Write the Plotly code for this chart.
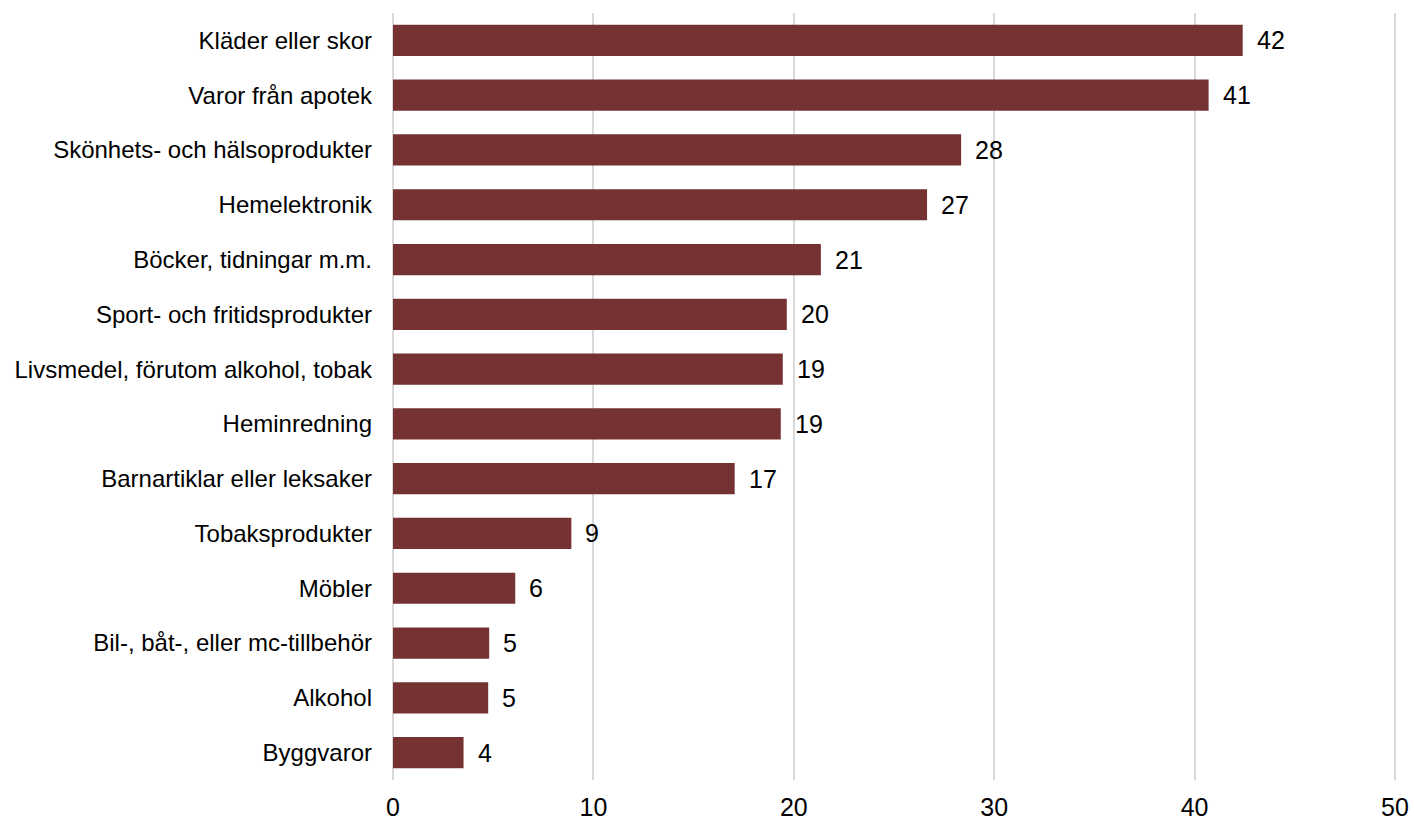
import plotly.graph_objects as go

categories = [
    "Kläder eller skor",
    "Varor från apotek",
    "Skönhets- och hälsoprodukter",
    "Hemelektronik",
    "Böcker, tidningar m.m.",
    "Sport- och fritidsprodukter",
    "Livsmedel, förutom alkohol, tobak",
    "Heminredning",
    "Barnartiklar eller leksaker",
    "Tobaksprodukter",
    "Möbler",
    "Bil-, båt-, eller mc-tillbehör",
    "Alkohol",
    "Byggvaror",
]
values = [42.4, 40.7, 28.35, 26.65, 21.35, 19.65, 19.45, 19.35, 17.05, 8.9, 6.1, 4.8, 4.75, 3.52]
value_labels = ["42", "41", "28", "27", "21", "20", "19", "19", "17", "9", "6", "5", "5", "4"]
x_ticks = [0, 10, 20, 30, 40, 50]

BAR = "#763232"
GRID = "#d9d9d9"
FONT = "Liberation Sans, Arial, sans-serif"

fig = go.Figure()
fig.add_trace(go.Bar(
    x=values, y=categories, orientation="h",
    marker=dict(color=BAR, line=dict(width=0)),
    hoverinfo="skip",
))

for cat, v, lab in zip(categories, values, value_labels):
    fig.add_annotation(x=v, y=cat, text=lab, showarrow=False,
                       xanchor="left", yanchor="middle", xshift=12,
                       font=dict(family=FONT, size=25, color="#000000"))

fig.update_layout(
    width=1414, height=822,
    margin=dict(l=393, r=17, t=13, b=42),
    paper_bgcolor="white", plot_bgcolor="white",
    bargap=0.43,
    showlegend=False,
    font=dict(family=FONT, size=24, color="#000000"),
)
fig.update_xaxes(
    range=[0, 50.1], tickvals=x_ticks, showgrid=True, gridcolor=GRID, gridwidth=1.5,
    zeroline=True, zerolinecolor=GRID, zerolinewidth=1.5, automargin=False,
    showline=False, ticks="", tickfont=dict(size=25), ticklabelstandoff=10,
)
fig.update_yaxes(
    autorange="reversed", showgrid=False, showline=False, ticks="", automargin=False,
    tickfont=dict(size=24), ticklabelstandoff=20,
)

fig.write_html("out.html")
